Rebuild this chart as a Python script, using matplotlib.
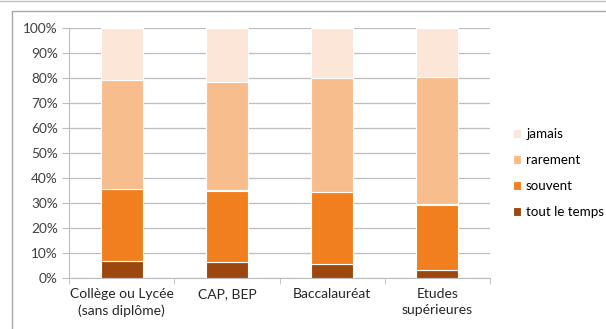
import matplotlib.pyplot as plt
from matplotlib.patches import Rectangle
from matplotlib.lines import Line2D
import numpy as np

categories = ['Collège ou Lycée\n(sans diplôme)', 'CAP, BEP', 'Baccalauréat', 'Etudes\nsupérieures']
tout_le_temps = [7, 6.3, 5.6, 3.4]
souvent = [28.6, 28.7, 28.8, 26.0]
rarement = [43.4, 43.2, 45.7, 51.0]
jamais = [21.0, 21.8, 19.9, 19.6]

series = [('tout le temps', tout_le_temps, '#9C470D'),
          ('souvent', souvent, '#F27F1E'),
          ('rarement', rarement, '#F8BD8D'),
          ('jamais', jamais, '#FCE6D8')]

plt.rcParams['font.family'] = ['Lato', 'DejaVu Sans']

fig = plt.figure(figsize=(6.06, 3.29), dpi=100)
ax = fig.add_axes([69/606, 1-278/329, 421/606, 250/329])

x = np.arange(len(categories))
bottom = np.zeros(len(categories))
for name, vals, col in series:
    ax.bar(x, vals, 0.4, bottom=bottom, color=col, edgecolor='white',
           linewidth=0.8, label=name, zorder=3)
    bottom += np.array(vals)

ax.set_xlim(-0.5, 3.5)
ax.set_ylim(0, 100)
ax.set_yticks(range(0, 101, 10))
ax.set_yticklabels([f'{v}%' for v in range(0, 101, 10)], fontsize=9.8, color='#404040')
ax.yaxis.grid(True, color='#BDBDBD', linewidth=0.9, zorder=0)
ax.tick_params(axis='y', length=5, color='#BDBDBD', pad=3)

ax.set_xticks(x)
ax.set_xticklabels(categories, fontsize=10, color='#262626', linespacing=1.45)
ax.set_xticks(np.arange(-0.5, 4, 1), minor=True)
ax.tick_params(axis='x', which='major', length=0, pad=7)
ax.tick_params(axis='x', which='minor', length=4, color='#BDBDBD')

for s in ['top', 'right']:
    ax.spines[s].set_visible(False)
ax.spines['left'].set_color('#BDBDBD')
ax.spines['bottom'].set_color('#BDBDBD')

handles, labels = ax.get_legend_handles_labels()
fig.legend(handles[::-1], labels[::-1], loc='upper left',
           bbox_to_anchor=(508/606, 1-123/329), frameon=False,
           fontsize=9.6, handlelength=0.6, handleheight=0.6,
           handletextpad=0.35, labelspacing=1.05, borderaxespad=0)

# chart frame
fig.patches.append(Rectangle((12/606, -0.05), 1.2, 1-11/329+0.05,
                             transform=fig.transFigure, fill=False,
                             edgecolor='#A6A6A6', linewidth=1.0))
fig.lines.append(Line2D([0, 1], [1-1/329, 1-1/329], transform=fig.transFigure,
                        color='#BFBFBF', linewidth=1.0))

fig.savefig('out.png', dpi=100)
